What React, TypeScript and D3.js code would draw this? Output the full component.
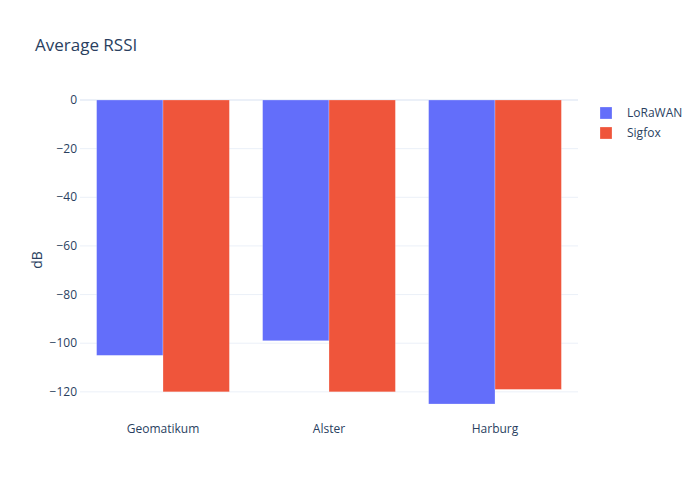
// Average RSSI grouped bar chart (plotly_white look)
import React, { useRef, useEffect } from 'react';
import * as d3 from 'd3';

const sites = ['Geomatikum', 'Alster', 'Harburg'];
const seriesNames = ['LoRaWAN', 'Sigfox'];
const lorawanValues = [-105, -99, -125];
const sigfoxValues = [-120, -120, -119];
const yTicks = [0, -20, -40, -60, -80, -100, -120];
const seriesColors = ['#636efa', '#EF553B'];

const W = 700;
const H = 500;
const margin = { top: 100, right: 122, bottom: 80, left: 80 };
const FONT = '"Open Sans", verdana, arial, sans-serif';
const TEXT = '#2a3f5f';

export default function App() {
  const svgRef = useRef<SVGSVGElement>(null);

  useEffect(() => {
    if (!svgRef.current) return;
    const svg = d3.select(svgRef.current);
    svg.selectAll('*').remove();

    const width = W - margin.left - margin.right;
    const height = H - margin.top - margin.bottom;
    const values = [lorawanValues, sigfoxValues];

    const minVal = d3.min(values.flat()) ?? 0;
    const y = d3.scaleLinear()
      .domain([minVal * 1.0526, 0])
      .range([height, 0]);

    const x0 = d3.scaleBand().domain(sites).range([0, width]).paddingInner(0.2).paddingOuter(0.1);
    const x1 = d3.scaleBand().domain(seriesNames).range([0, x0.bandwidth()]);

    svg.append('rect').attr('width', W).attr('height', H).attr('fill', '#fff');

    // Title
    svg.append('text')
      .attr('x', 35)
      .attr('y', 51)
      .attr('fill', TEXT)
      .style('font-family', FONT)
      .style('font-size', '17px')
      .text('Average RSSI');

    const g = svg.append('g').attr('transform', `translate(${margin.left},${margin.top})`);

    // Grid lines
    g.selectAll('.grid')
      .data(yTicks)
      .join('line')
      .attr('x1', 0)
      .attr('x2', width)
      .attr('y1', d => y(d))
      .attr('y2', d => y(d))
      .attr('stroke', '#ebf0f8')
      .attr('stroke-width', d => (d === 0 ? 2 : 1));

    // Bars
    seriesNames.forEach((name, si) => {
      g.selectAll(`.bar-${si}`)
        .data(sites.map((s, i) => ({ site: s, value: values[si][i] })))
        .join('rect')
        .attr('x', d => (x0(d.site) ?? 0) + (x1(name) ?? 0))
        .attr('y', y(0))
        .attr('width', x1.bandwidth())
        .attr('height', d => y(d.value) - y(0))
        .attr('fill', seriesColors[si])
        .attr('stroke', '#fff')
        .attr('stroke-opacity', 0.5)
        .attr('stroke-width', 0.5);
    });

    // Y tick labels
    g.selectAll('.ytick')
      .data(yTicks)
      .join('text')
      .attr('x', -3)
      .attr('y', d => y(d))
      .attr('dy', '0.35em')
      .attr('text-anchor', 'end')
      .attr('fill', TEXT)
      .style('font-family', FONT)
      .style('font-size', '12px')
      .text(d => (d < 0 ? `\u2212${Math.abs(d)}` : `${d}`));

    // X tick labels
    g.selectAll('.xtick')
      .data(sites)
      .join('text')
      .attr('x', d => (x0(d) ?? 0) + x0.bandwidth() / 2)
      .attr('y', height + 9)
      .attr('dy', '0.35em')
      .attr('text-anchor', 'middle')
      .attr('fill', TEXT)
      .style('font-family', FONT)
      .style('font-size', '12px')
      .text(d => d);

    // Y axis title
    svg.append('text')
      .attr('transform', `translate(42,${margin.top + height / 2}) rotate(-90)`)
      .attr('text-anchor', 'middle')
      .attr('fill', TEXT)
      .style('font-family', FONT)
      .style('font-size', '14px')
      .text('dB');

    // Legend
    const legend = svg.append('g').attr('transform', `translate(${W - margin.right + 22},${113})`);
    seriesNames.forEach((name, i) => {
      const item = legend.append('g').attr('transform', `translate(0,${i * 20})`);
      item.append('rect')
        .attr('x', 0)
        .attr('y', -6)
        .attr('width', 12)
        .attr('height', 12)
        .attr('fill', seriesColors[i])
        .attr('stroke', '#fff')
        .attr('stroke-opacity', 0.5)
        .attr('stroke-width', 0.5);
      item.append('text')
        .attr('x', 27)
        .attr('y', 0)
        .attr('dy', '0.35em')
        .attr('fill', TEXT)
        .style('font-family', FONT)
        .style('font-size', '12px')
        .text(name);
    });
  }, []);

  return (
    <div style={{ position: 'absolute', top: 0, left: 0, width: W, height: H }}>
      <svg ref={svgRef} width={W} height={H} style={{ display: 'block' }} />
    </div>
  );
}
